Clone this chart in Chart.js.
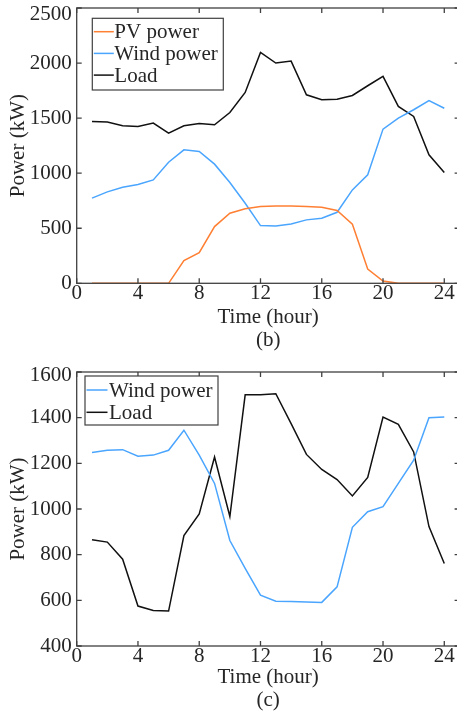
<!DOCTYPE html>
<html>
<head>
<meta charset="utf-8">
<script src="https://cdn.jsdelivr.net/npm/chart.js@4.4.0/dist/chart.umd.min.js"></script>
<style>
  html, body { margin: 0; padding: 0; background: #fff; overflow: hidden; width: 457px; height: 715px; }
  #clip { position: absolute; left: 0; top: 0; width: 457px; height: 715px; overflow: hidden; }
  .panel { position: absolute; left: 0; width: 475px; }
  #panelB { top: 0; height: 360px; }
  #panelC { top: 360px; height: 355px; }
</style>
</head>
<body>
<div id="clip">
  <div class="panel" id="panelB"><canvas id="chartB"></canvas></div>
  <div class="panel" id="panelC"><canvas id="chartC"></canvas></div>
</div>
<script>
// hours of the day
const hours = [1, 2, 3, 4, 5, 6, 7, 8, 9, 10, 11, 12, 13, 14, 15, 16, 17, 18, 19, 20, 21, 22, 23, 24]

// (b) PV, wind and load (kW)
const pvPowerB = [0, 0, 0, 0, 0, 0, 206, 279, 515, 636, 676, 697, 703, 703, 697, 691, 661, 536, 130, 21, 0, 0, 0, 0]
const windPowerB = [773, 830, 873, 897, 939, 1100, 1212, 1197, 1082, 915, 727, 524, 521, 539, 576, 591, 645, 848, 985, 1400, 1500, 1576, 1660, 1590]
const loadB = [1470, 1464, 1430, 1424, 1455, 1364, 1430, 1452, 1440, 1551, 1733, 2097, 2000, 2018, 1712, 1667, 1672, 1706, 1794, 1879, 1606, 1515, 1167, 1006]

// (c) wind and load (kW)
const windPowerC = [1247, 1257, 1260, 1231, 1236, 1257, 1345, 1236, 1112, 862, 740, 623, 596, 595, 593, 591, 659, 920, 988, 1010, 1112, 1214, 1400, 1403]
const loadC = [865, 855, 780, 575, 556, 553, 884, 978, 1228, 967, 1500, 1500, 1505, 1374, 1239, 1173, 1129, 1057, 1138, 1403, 1371, 1250, 923, 761]

// axis ticks
const xTicks = [0, 4, 8, 12, 16, 20, 24]
const yTicksB = [0, 500, 1000, 1500, 2000, 2500]
const yTicksC = [400, 600, 800, 1000, 1200, 1400, 1600]

const PV_COLOR = '#ff7f33'
const WIND_COLOR = '#4aa5ff'
const LOAD_COLOR = '#111111'
const TEXT_COLOR = '#262626'
const AXIS_COLOR = '#404040'
const FONT_SIZE = 21

Chart.defaults.font.family = '"Liberation Serif", "Times New Roman", serif'
Chart.defaults.font.size = FONT_SIZE
Chart.defaults.color = TEXT_COLOR

// box round the plot area plus inward tick marks on all four sides
const frameTicks = {
  id: 'frameTicks',
  afterDatasetsDraw(chart) {
    const { ctx, chartArea: a, scales: { x, y } } = chart
    ctx.save()
    ctx.strokeStyle = AXIS_COLOR
    ctx.lineWidth = 1.3
    ctx.strokeRect(a.left, a.top, a.right - a.left, a.bottom - a.top)
    ctx.beginPath()
    x.ticks.forEach(t => {
      const px = x.getPixelForValue(t.value)
      ctx.moveTo(px, a.bottom); ctx.lineTo(px, a.bottom - 5)
      ctx.moveTo(px, a.top); ctx.lineTo(px, a.top + 5)
    })
    y.ticks.forEach(t => {
      const py = y.getPixelForValue(t.value)
      ctx.moveTo(a.left, py); ctx.lineTo(a.left + 5, py)
      ctx.moveTo(a.right, py); ctx.lineTo(a.right - 5, py)
    })
    ctx.stroke()
    ctx.restore()
  }
}

// legend drawn inside a framed box in the upper left corner
const boxLegend = {
  id: 'boxLegend',
  afterDraw(chart, args, opts) {
    const { ctx, chartArea: a } = chart
    const x0 = a.left + opts.dx
    const y0 = a.top + opts.dy
    ctx.save()
    ctx.fillStyle = '#fff'
    ctx.fillRect(x0, y0, opts.w, opts.h)
    ctx.strokeStyle = AXIS_COLOR
    ctx.lineWidth = 1.2
    ctx.strokeRect(x0, y0, opts.w, opts.h)
    ctx.font = FONT_SIZE + 'px "Liberation Serif", serif'
    ctx.textBaseline = 'middle'
    ctx.fillStyle = TEXT_COLOR
    chart.data.datasets.forEach((ds, i) => {
      const cy = y0 + opts.first + i * opts.row
      ctx.beginPath()
      ctx.strokeStyle = ds.borderColor
      ctx.lineWidth = 1.5
      ctx.moveTo(x0 + 1.5, cy)
      ctx.lineTo(x0 + 1.5 + opts.len, cy)
      ctx.stroke()
      ctx.fillText(ds.label, x0 + opts.textX, cy + 1)
    })
    ctx.restore()
  }
}

function series(label, values, color) {
  return {
    label: label,
    data: hours.map((h, i) => ({ x: h, y: values[i] })),
    borderColor: color,
    backgroundColor: color,
    borderWidth: 1.5,
    pointRadius: 0,
    tension: 0,
    fill: false
  }
}

function makeChart(id, datasets, yTicks, cfg) {
  const yMax = yTicks[yTicks.length - 1]
  return new Chart(document.getElementById(id), {
    type: 'line',
    data: { datasets: datasets },
    options: {
      responsive: true,
      maintainAspectRatio: false,
      animation: false,
      layout: { padding: { top: cfg.padTop, right: 15.4, bottom: cfg.padBottom, left: 0 } },
      plugins: {
        legend: { display: false },
        tooltip: { enabled: false },
        boxLegend: cfg.legend
      },
      scales: {
        x: {
          type: 'linear',
          min: 0,
          max: 25,
          grid: { display: false, drawTicks: false },
          border: { display: false },
          afterBuildTicks: s => { s.ticks = xTicks.map(v => ({ value: v })) },
          afterFit: s => {
            s.height = cfg.xHeight
            s.paddingLeft = 0
            s.paddingRight = 0
          },
          ticks: { padding: -2, maxRotation: 0, autoSkip: false, color: TEXT_COLOR, callback: v => String(v) },
          title: {
            display: true,
            text: ['Time (hour)', cfg.caption],
            font: { size: FONT_SIZE, lineHeight: 1.1 },
            padding: 0,
            color: TEXT_COLOR
          }
        },
        y: {
          min: yTicks[0],
          max: yMax,
          grid: { display: false, drawTicks: false },
          border: { display: false },
          afterBuildTicks: s => { s.ticks = yTicks.map(v => ({ value: v })) },
          // fixed width, and no extra room reserved for the end labels
          afterFit: s => {
            s.width = 76.7
            s.paddingTop = 0
            s.paddingBottom = 0
          },
          ticks: {
            padding: 5,
            autoSkip: false,
            color: TEXT_COLOR,
            // top label sits a little below its tick so it stays inside the page
            callback: v => v === yMax ? ['', String(v)] : String(v),
            font: c => c.tick && c.tick.value === yMax
              ? { size: FONT_SIZE, lineHeight: (cfg.topShift * 2) + 'px' }
              : { size: FONT_SIZE }
          },
          title: {
            display: true,
            text: 'Power (kW)',
            font: { size: FONT_SIZE, lineHeight: 1.1 },
            padding: { top: 7, bottom: 0 },
            color: TEXT_COLOR
          }
        }
      }
    },
    plugins: [frameTicks, boxLegend]
  })
}

makeChart('chartB', [
  series('PV power', pvPowerB, PV_COLOR),
  series('Wind power', windPowerB, WIND_COLOR),
  series('Load', loadB, LOAD_COLOR)
], yTicksB, {
  padTop: 8,
  padBottom: 7.5,
  xHeight: 69.2,
  topShift: 6,
  caption: '(b)',
  legend: { dx: 15.6, dy: 10.3, w: 131, h: 71.7, first: 13.4, row: 21.7, len: 20, textX: 22 }
})

makeChart('chartC', [
  series('Wind power', windPowerC, WIND_COLOR),
  series('Load', loadC, LOAD_COLOR)
], yTicksC, {
  padTop: 12,
  padBottom: 2.5,
  xHeight: 66.5,
  topShift: 3,
  caption: '(c)',
  legend: { dx: 8.3, dy: 4, w: 133, h: 49, first: 14, row: 22.3, len: 21, textX: 24 }
})
</script>
</body>
</html>
